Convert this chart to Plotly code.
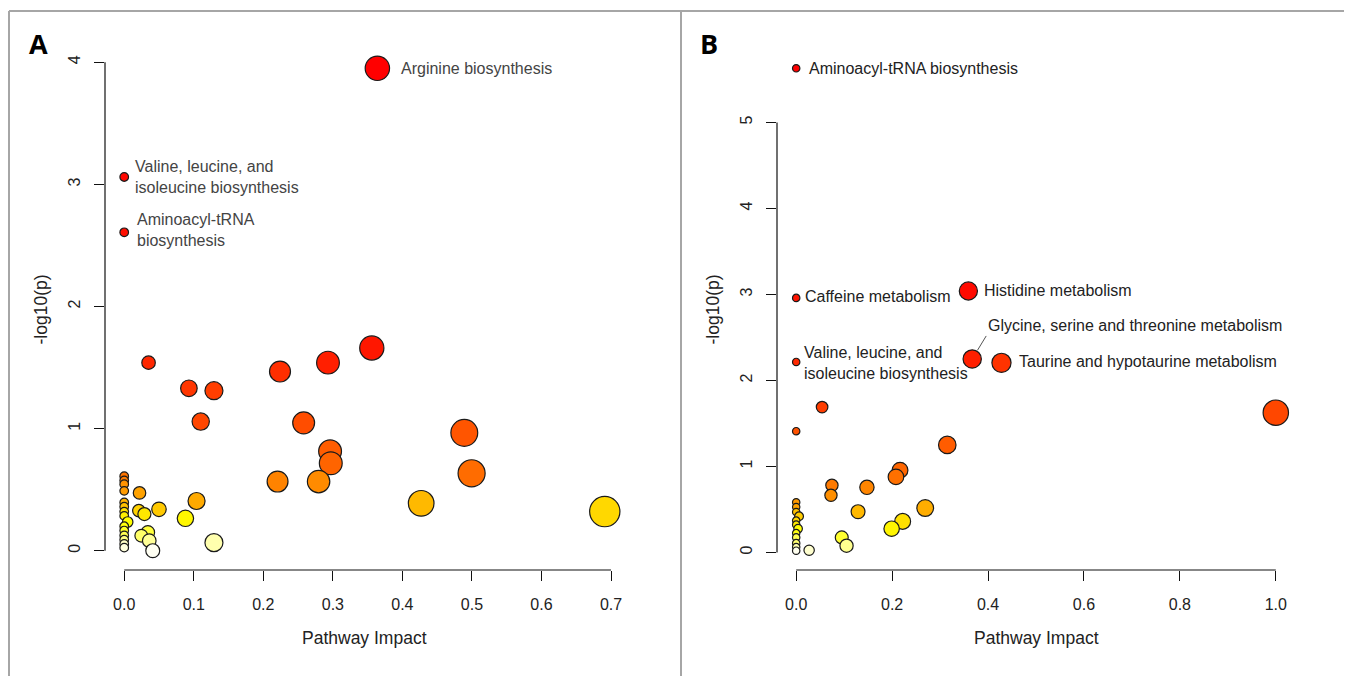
import colorsys
import numpy as np
import plotly.graph_objects as go

# page body has an 8px margin; figure is drawn 8px right/down of the window corner
OFF = 8
W, H = 1352 - OFF, 676 - OFF

# ---------------- data: panel A ----------------
a_impact = [0.364, 0.0, 0.0,
            0.356, 0.293, 0.035, 0.224, 0.093, 0.129, 0.110, 0.258, 0.489, 0.296,
            0.297, 0.4995, 0.2205, 0.2795, 0.022, 0.104, 0.427, 0.050, 0.021, 0.691,
            0.029, 0.088, 0.034, 0.0245, 0.036, 0.129, 0.041,
            0.0, 0.0, 0.0, 0.0, 0.0, 0.0, 0.0, 0.0, 0.005, 0.0, 0.0, 0.0, 0.0, 0.0, 0.0]
a_logp = [3.95, 3.06, 2.607,
          1.66, 1.54, 1.54, 1.467, 1.33, 1.31, 1.057, 1.047, 0.965, 0.814,
          0.716, 0.634, 0.566, 0.566, 0.473, 0.407, 0.388, 0.339, 0.328, 0.32,
          0.30, 0.265, 0.15, 0.123, 0.082, 0.066, 0.0,
          0.61, 0.575, 0.545, 0.49, 0.395, 0.36, 0.32, 0.285, 0.235, 0.20, 0.165, 0.125, 0.09, 0.055, 0.025]
a_label_index = [0, 1, 2]
a_label_text = ["Arginine biosynthesis",
                "Valine, leucine, and<br>isoleucine biosynthesis",
                "Aminoacyl-tRNA<br>biosynthesis"]
a_xticks = [0.0, 0.1, 0.2, 0.3, 0.4, 0.5, 0.6, 0.7]
a_xticklabels = ["0.0", "0.1", "0.2", "0.3", "0.4", "0.5", "0.6", "0.7"]
a_yticks = [0, 1, 2, 3, 4]

# ---------------- data: panel B ----------------
b_impact = [0.0, 0.359, 0.0, 0.367, 0.0, 0.428,
            0.054, 1.0, 0.0, 0.315, 0.2165, 0.208, 0.0745, 0.1475, 0.0725, 0.269,
            0.129, 0.222, 0.199, 0.095, 0.105, 0.027,
            0.0, 0.0, 0.0, 0.006, 0.0, 0.0, 0.004, 0.0, 0.0, 0.0, 0.0, 0.0]
b_logp = [5.63, 3.04, 2.96, 2.25, 2.215, 2.205,
          1.69, 1.625, 1.41, 1.25, 0.956, 0.878, 0.78, 0.757, 0.664, 0.516,
          0.474, 0.361, 0.276, 0.175, 0.078, 0.025,
          0.583, 0.528, 0.47, 0.42, 0.37, 0.323, 0.276, 0.225, 0.175, 0.108, 0.062, 0.02]
b_label_index = [0, 1, 2, 3, 4, 5]
b_label_text = ["Aminoacyl-tRNA biosynthesis",
                "Histidine metabolism",
                "Caffeine metabolism",
                "Glycine, serine and threonine metabolism",
                "Valine, leucine, and<br>isoleucine biosynthesis",
                "Taurine and hypotaurine metabolism"]
b_xticks = [0.0, 0.2, 0.4, 0.6, 0.8, 1.0]
b_xticklabels = ["0.0", "0.2", "0.4", "0.6", "0.8", "1.0"]
b_yticks = [0, 1, 2, 3, 4, 5]

# ---------------- styling ----------------
FONT = "Liberation Sans, Arial, sans-serif"
# label offsets in px (xshift, yshift); None => leader line
a_label_style = [(22, 0), (9, 0), (11, 2)]
b_label_style = [(11, 0), (14, 1), (7, 1), None, (6, -1), (16, 1)]
RADIUS_PAD = 0.7

# plot regions in window px (left, right, top, bottom)
A_BOX = (105, 624, 49, 570)
B_BOX = (777, 1295, 49, 570)


def px_x(p):
    return (p - OFF) / W


def px_y(p):
    return (H - (p - OFF)) / H


def heat_colors(n):
    j = n // 4
    i = n - j
    cols = []
    for k in range(i):
        h = (k / (i - 1)) * (1 / 6) if i > 1 else 0
        cols.append(colorsys.hsv_to_rgb(h, 1, 1))
    if j > 0:
        for s in np.linspace(1 - 1 / (2 * j), 1 / (2 * j), j):
            cols.append(colorsys.hsv_to_rgb(1 / 6, s, 1))
    return ["#%02X%02X%02X" % tuple(int(round(c * 255)) for c in col) for col in cols]


def r_range(v):
    lo, hi = min(v), max(v)
    d = (hi - lo) * 0.04
    return [lo - d, hi + d]


fig = go.Figure()


def add_panel(xs, ys, box, xname, yname):
    xs = np.array(xs, float)
    ys = np.array(ys, float)
    order = np.argsort(-ys, kind="stable")
    xr = r_range(xs)
    px_per_x = (box[1] - box[0]) / (xr[1] - xr[0])
    sq = np.sqrt(xs)
    mn, mx = sq.min(), sq.max()
    maxR = (mx - mn) / 40
    minR = (mx - mn) / 160
    radi = minR + (maxR - minR) * (sq - mn) / (mx - mn)
    cols = heat_colors(len(xs))
    fig.add_trace(go.Scatter(
        x=xs[order], y=ys[order], mode="markers",
        marker=dict(size=2 * (radi[order] * px_per_x + RADIUS_PAD), color=cols,
                    line=dict(color="#1a1a1a", width=1.2), opacity=1),
        xaxis=xname, yaxis=yname, showlegend=False, hoverinfo="x+y"))
    return xr, r_range(ys)


a_xr, a_yr = add_panel(a_impact, a_logp, A_BOX, "x", "y")
b_xr, b_yr = add_panel(b_impact, b_logp, B_BOX, "x2", "y2")


def dom_x(box):
    return [px_x(box[0]), px_x(box[1])]


def dom_y(box):
    return [px_y(box[3]), px_y(box[2])]


tick_font = dict(family=FONT, size=16, color="#222222")
common_x = dict(showgrid=False, zeroline=False, showline=False, ticks="outside",
                ticklen=10, tickwidth=1, tickcolor="#111111", tickfont=tick_font,
                ticklabelstandoff=10)
common_y = dict(showgrid=False, zeroline=False, showline=False, ticks="outside",
                ticklen=10, tickwidth=1, tickcolor="#111111", tickfont=tick_font,
                tickangle=-90, ticklabelstandoff=8)

fig.update_layout(
    width=W, height=H, margin=dict(l=0, r=0, t=0, b=0),
    paper_bgcolor="white", plot_bgcolor="white",
    xaxis=dict(domain=dom_x(A_BOX), range=a_xr, anchor="y",
               tickvals=a_xticks, ticktext=a_xticklabels, **common_x),
    yaxis=dict(domain=dom_y(A_BOX), range=a_yr, anchor="x",
               tickvals=a_yticks, ticktext=[str(t) for t in a_yticks], **common_y),
    xaxis2=dict(domain=dom_x(B_BOX), range=b_xr, anchor="y2",
                tickvals=b_xticks, ticktext=b_xticklabels, **common_x),
    yaxis2=dict(domain=dom_y(B_BOX), range=b_yr, anchor="x2",
                tickvals=b_yticks, ticktext=[str(t) for t in b_yticks], **common_y),
)

shapes = []
# R-style axis lines spanning the tick range
for xa, ya, xt, yt in [("x", "y", a_xticks, a_yticks), ("x2", "y2", b_xticks, b_yticks)]:
    shapes.append(dict(type="line", xref=xa, yref=ya + " domain",
                       x0=xt[0], x1=xt[-1], y0=0, y1=0,
                       line=dict(color="#111111", width=1.2)))
    shapes.append(dict(type="line", xref=xa + " domain", yref=ya,
                       x0=0, x1=0, y0=yt[0], y1=yt[-1],
                       line=dict(color="#111111", width=1.2)))
# outer frame
frame = dict(color="#a6a6a6", width=2)
shapes.append(dict(type="line", xref="paper", yref="paper", x0=px_x(9), x1=px_x(9),
                   y0=0, y1=px_y(11), line=frame))
shapes.append(dict(type="line", xref="paper", yref="paper", x0=px_x(9), x1=1,
                   y0=px_y(11), y1=px_y(11), line=frame))
shapes.append(dict(type="line", xref="paper", yref="paper", x0=px_x(681), x1=px_x(681),
                   y0=0, y1=px_y(11), line=frame))
fig.update_layout(shapes=shapes)

ann = []
title_font = dict(family=FONT, size=17.5, color="#222222")
for xa, ya, box in [("x", "y", A_BOX), ("x2", "y2", B_BOX)]:
    ann.append(dict(text="Pathway Impact", xref=xa + " domain", yref="paper",
                    x=0.5, y=px_y(638), xanchor="center", yanchor="middle",
                    showarrow=False, font=title_font))
    ann.append(dict(text="-log10(p)", xref="paper", yref=ya + " domain",
                    x=px_x(box[0] - 65), y=0.5, xanchor="center", yanchor="middle",
                    textangle=-90, showarrow=False, font=title_font))

# panel letters
letter_font = dict(family="Open Sans, DejaVu Sans, sans-serif", size=27, color="black")
ann.append(dict(text="<b>A</b>", xref="paper", yref="paper", x=px_x(38), y=px_y(44),
                xanchor="center", yanchor="middle", showarrow=False, font=letter_font))
ann.append(dict(text="<b>B</b>", xref="paper", yref="paper", x=px_x(709), y=px_y(44),
                xanchor="center", yanchor="middle", showarrow=False, font=letter_font))

lab_font_a = dict(family=FONT, size=16, color="#444444")
lab_font_b = dict(family=FONT, size=16, color="#222222")
for xs, ys, idx, txt, sty, xa, ya, lf in [
        (a_impact, a_logp, a_label_index, a_label_text, a_label_style, "x", "y", lab_font_a),
        (b_impact, b_logp, b_label_index, b_label_text, b_label_style, "x2", "y2", lab_font_b)]:
    for k, i in enumerate(idx):
        if sty[k] is None:
            ann.append(dict(text=txt[k], xref=xa, yref=ya, x=xs[i], y=ys[i],
                            showarrow=True, arrowhead=0, arrowwidth=1,
                            arrowcolor="#555555", ax=14, ay=-23, standoff=10,
                            xanchor="left", yanchor="bottom", align="left", font=lf))
        else:
            ann.append(dict(text=txt[k], xref=xa, yref=ya, x=xs[i], y=ys[i],
                            xshift=sty[k][0], yshift=sty[k][1], showarrow=False,
                            xanchor="left", yanchor="middle", align="left", font=lf))
fig.update_layout(annotations=ann)

fig.write_html("out.html")
